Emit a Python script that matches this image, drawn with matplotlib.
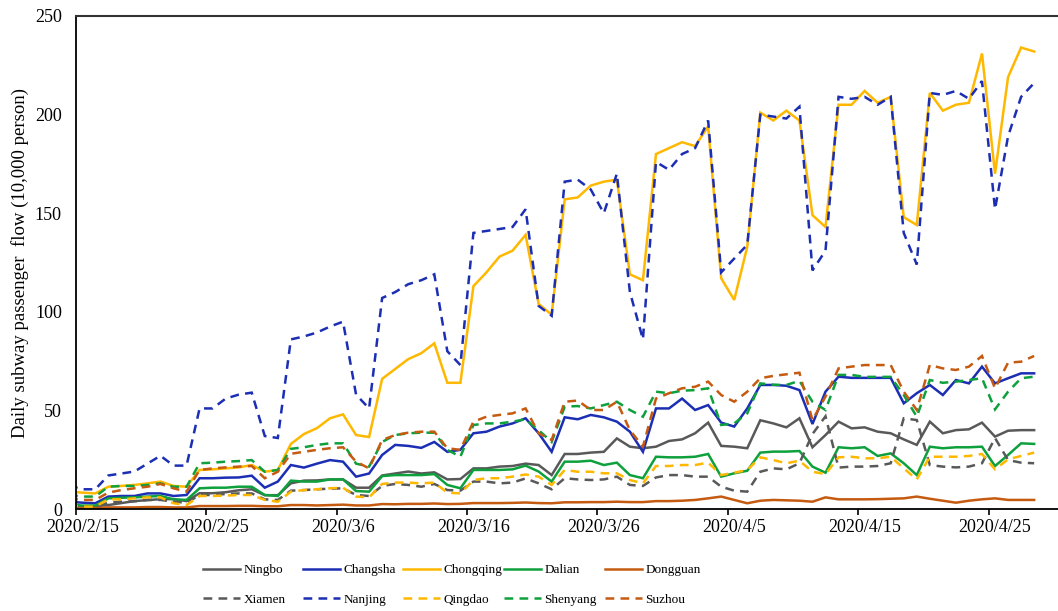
import matplotlib
matplotlib.use("Agg")
import matplotlib.pyplot as plt
import matplotlib.dates as mdates
import pandas as pd

plt.rcParams['font.family'] = ['Liberation Serif', 'DejaVu Serif']

# daily subway passenger flow (10,000 persons), 2020/2/14 .. 2020/4/28
dates = pd.date_range('2020-02-14 12:00', '2020-04-28 12:00', freq='D')

ningbo = [1.5, 1.5, 1.5, 2, 3, 4, 4.5, 5, 5, 4,
          8, 8, 8.5, 9.5, 10, 7, 7,
          13, 14.4, 14.5, 15, 15, 10.8, 10.8,
          17, 18, 19, 18, 18.6, 15, 15.2,
          20.6, 20.6, 21.5, 21.8, 23, 22.3, 17.2,
          27.9, 27.9, 28.6, 29, 35.8, 31.6, 30.8,
          31.6, 34.5, 35.3, 38.4, 43.8, 32, 31.6,
          30.8, 45, 43.4, 41.4, 46, 31.3, 37.5,
          44.3, 40.9, 41.4, 39.2, 38.4, 35.3, 32.5,
          44.3, 38.4, 40, 40.4, 43.8, 36.7, 39.7,
          40, 40]
changsha = [3.7, 3.2, 2.9, 6.3, 6.6, 6.6, 7.9, 7.9, 6.6, 7.1,
            15.6, 15.6, 15.9, 16, 16.9, 10.8, 13.9,
            22.3, 21, 23, 24.8, 24, 16.4, 18,
            27.4, 32.5, 32, 31, 34, 29, 30,
            38.4, 39.2, 41.8, 43.4, 46, 38.4, 29,
            46.5, 45.5, 47.7, 46.5, 44.3, 39.2, 29,
            51, 51, 56, 50.2, 52.7, 43.8, 41.8,
            51, 62.9, 62.9, 62.5, 60.3, 43.1, 59.5,
            67.1, 66.5, 66.5, 66.5, 66.5, 53.6, 58.7,
            62.9, 57.8, 65.4, 63.7, 72.2, 63.7, 66.3,
            68.8, 68.8]
chongqing = [8.8, 8.3, 7.9, 11.3, 11.7, 12.2, 13, 13.9, 11.7, 11.3,
             19.8, 20.1, 20.6, 21.1, 22.3, 18.9, 19.8,
             33, 38, 41, 46, 48, 37.5, 36.5,
             66, 71, 76, 79, 84, 64, 64,
             113, 120, 128, 131, 139, 104, 98.5,
             157, 158, 164, 166, 167, 119, 116,
             180, 183, 186, 184, 194, 117, 106,
             133, 201, 197, 202, 197, 149, 143,
             205, 205, 212, 206, 209, 148, 144,
             211, 202, 205, 206, 231, 170, 219,
             234, 232]
dalian = [2.5, 1.7, 1.7, 5.4, 5.7, 5.9, 6.3, 6.6, 4.9, 4.6,
          10.5, 10.8, 10.8, 11.3, 11.3, 7.1, 6.6,
          14.4, 13.9, 13.9, 15, 15, 9.1, 8.8,
          16.7, 17.2, 17.2, 17.2, 17.7, 12.2, 10.5,
          19.8, 19.8, 19.8, 20.1, 22, 19, 13.9,
          24, 24, 24.5, 22.3, 23.5, 17.2, 15.6,
          26.5, 26.2, 26.2, 26.5, 27.9, 16.4, 18.1,
          19.4, 28.6, 29.1, 29.1, 29.4, 21.5, 18.4,
          31.3, 30.8, 31.3, 26.9, 28.2, 23.2, 17.2,
          31.6, 30.8, 31.3, 31.3, 31.6, 21.8, 27.4,
          33.3, 33]
dongguan = [0.5, 0.5, 0.5, 0.8, 0.8, 0.8, 1, 1, 0.8, 0.8,
            1.5, 1.5, 1.5, 1.6, 1.6, 1.4, 1.4,
            2, 2, 1.8, 2, 2.2, 1.8, 1.8,
            2.5, 2.4, 2.6, 2.6, 2.8, 2.5, 2.6,
            3, 3, 3, 3.1, 3.3, 3, 2.9,
            3.4, 3.4, 3.5, 3.5, 3.7, 3.5, 3.5,
            4, 4, 4.2, 4.6, 5.4, 6.3, 4.6,
            2.9, 4.2, 4.6, 4.4, 4.2, 3.7, 5.9,
            4.9, 4.9, 4.9, 5, 5.2, 5.4, 6.3,
            5.2, 4.2, 3.2, 4.2, 4.9, 5.4, 4.6,
            4.6, 4.6]
xiamen = [1.2, 0.8, 0.8, 3.2, 3.7, 3.9, 4.6, 4.6, 3.7, 3.2,
          7.1, 7.1, 7.6, 7.9, 7.9, 4.9, 4.6,
          9.3, 9.6, 10, 10.3, 10.5, 7.1, 6.6,
          11.7, 12.7, 12.2, 11.3, 12.7, 9.6, 9.3,
          13.9, 13.9, 13, 13.4, 15.5, 13, 10,
          15.6, 15, 14.7, 15, 16.4, 12.2, 11.7,
          16, 17.2, 17.2, 16.4, 16.4, 11.3, 9.3,
          8.8, 18.9, 20.6, 20.1, 23.2, 38, 47,
          21, 21.5, 21.5, 21.8, 23.2, 46, 45.1,
          22.3, 21.5, 21.1, 21.5, 23.2, 36, 24.8,
          23.5, 23.2]
nanjing = [12, 10, 10, 17, 18, 19, 23, 27, 22, 22,
           51, 51, 56, 58, 59, 37, 36,
           86, 87.5, 89.5, 92.5, 95, 58, 51,
           107, 110, 114, 116, 119, 80, 73,
           140, 141, 142, 143, 152, 103, 98,
           166, 167, 162, 150, 170, 110, 86,
           176, 172, 180, 183, 197, 120, 127,
           134, 200, 199, 198, 204, 121, 131,
           209, 208, 209, 205, 209, 140, 124,
           211, 210, 212, 208, 217, 152, 189,
           209, 216]
qingdao = [2, 1.2, 1.2, 4.9, 4.9, 5.4, 5.9, 5.9, 2.9, 2,
           6.6, 6.6, 6.8, 7.1, 7.1, 4.6, 3.7,
           8.8, 9.6, 10, 10.5, 10.8, 6.3, 5.9,
           12.7, 13.4, 13.4, 13, 13.4, 8.3, 7.9,
           14.7, 15.6, 15.6, 16.4, 17.5, 16.4, 12.2,
           19.8, 18.9, 18.9, 18.1, 18.1, 14.7, 13,
           21.8, 21.8, 22.3, 22.3, 23.5, 17.2, 18.4,
           19.8, 26.2, 24.8, 23.2, 24.5, 18.9, 17.7,
           26.2, 26.5, 25.7, 25.7, 26.5, 20.6, 15,
           26.5, 26.5, 26.5, 26.9, 27.9, 20.1, 25.2,
           26.9, 28.6]
shenyang = [7.1, 6.3, 6.3, 11.3, 11.7, 11.7, 12.2, 13, 11.3, 11.3,
            23.2, 23.5, 24, 24.3, 24.8, 18.9, 19.8,
            30.5, 31.3, 32.5, 33.3, 33.3, 23, 21.5,
            34, 37.5, 38.4, 38.7, 38.7, 30, 26.5,
            42.6, 43.4, 43.4, 44.3, 45.5, 40, 34,
            51.9, 52.2, 51, 52.7, 54.4, 50.2, 46.8,
            59.5, 58.7, 60, 60.3, 61.2, 42.6, 43.4,
            48.5, 63.7, 63, 62.9, 65, 54.4, 50.2,
            68, 68, 67, 67, 67, 57.8, 46.8,
            65.4, 64, 64.6, 65.4, 66.3, 50.5, 59.5,
            66.3, 67.1]
suzhou = [5.4, 4.6, 4.6, 8.3, 9.6, 10.5, 11.3, 12.7, 10.5, 8.8,
          19.8, 20.6, 21.1, 21.5, 21.8, 15.6, 18.9,
          28, 29, 30, 30.8, 31.3, 24, 20.6,
          35, 37.5, 38.7, 39.2, 39.2, 30.8, 30,
          44.3, 46.8, 47.7, 48.5, 51, 38.4, 35,
          54.4, 55, 50.2, 50.2, 54.4, 40, 31.6,
          56, 58.7, 61.2, 62, 64.6, 57.8, 54.4,
          59.5, 66.3, 67.5, 68.3, 69.1, 45.1, 57,
          71.3, 72.2, 73, 73, 73, 59.5, 50.2,
          73, 71.3, 70.5, 72.2, 77.6, 61.2, 74.2,
          74.7, 77.6]

gray = '#595959'
blue = '#1c2fb4'
gold = '#ffb800'
green = '#0ea03c'
brown = '#c55a11'

# (label, values, colour, dashed) in drawing order
series = [
    ('Ningbo', ningbo, gray, False),
    ('Changsha', changsha, blue, False),
    ('Chongqing', chongqing, gold, False),
    ('Dalian', dalian, green, False),
    ('Dongguan', dongguan, brown, False),
    ('Xiamen', xiamen, gray, True),
    ('Nanjing', nanjing, blue, True),
    ('Qingdao', qingdao, gold, True),
    ('Shenyang', shenyang, green, True),
    ('Suzhou', suzhou, brown, True),
]
dash = (0, (3.5, 2.5))
lw = 1.8

W, H = 1058, 611
fig = plt.figure(figsize=(W / 100, H / 100), dpi=100)
ax_left, ax_top, ax_bottom = 75.7, 16, 509
ax = fig.add_axes([ax_left / W, 1 - ax_bottom / H, (W - ax_left) / W, (ax_bottom - ax_top) / H])

handles = {}
for name, vals, col, dashed in series:
    ln, = ax.plot(dates, vals, color=col, lw=lw, linestyle=dash if dashed else '-',
                  solid_joinstyle='miter', dash_joinstyle='miter')
    handles[name] = ln

start = mdates.date2num(pd.Timestamp('2020-02-15'))
px_per_day = 13.04
ax.set_xlim(start, start + (W - ax_left) / px_per_day)
ax.set_ylim(0, 250)
ax.set_yticks(range(0, 251, 50))

# tick marks at the start of every tenth day, labels centred on that day
tick_days = pd.date_range('2020-02-15', periods=8, freq='10D')
ax.set_xticks(mdates.date2num(tick_days))
ax.set_xticklabels([])
ax.set_xticks(mdates.date2num(tick_days + pd.Timedelta(hours=12)), minor=True)
ax.set_xticklabels([f'{d.year}/{d.month}/{d.day}' for d in tick_days], minor=True)

ax.spines['right'].set_visible(False)
for s in ['left', 'bottom']:
    ax.spines[s].set_linewidth(1.3)
    ax.spines[s].set_color('black')
ax.spines['top'].set_linewidth(1.5)
ax.spines['top'].set_color('#333333')

ax.tick_params(axis='y', length=0, pad=10, labelsize=13)
ax.tick_params(axis='x', which='major', length=4, width=1.2, direction='out')
ax.tick_params(axis='x', which='minor', length=0, pad=7.5, labelsize=13)

ax.set_ylabel('Daily subway passenger  flow (10,000 person)', fontsize=13.5)
ax.yaxis.set_label_coords((29 - ax_left) / (W - ax_left), 0.5)

# legend laid out as five equal columns of two rows
col_x = [203, 303, 403, 504, 605]
pairs = [('Ningbo', 'Xiamen'), ('Changsha', 'Nanjing'), ('Chongqing', 'Qingdao'),
         ('Dalian', 'Shenyang'), ('Dongguan', 'Suzhou')]
for x, (a, b) in zip(col_x, pairs):
    fig.legend([handles[a], handles[b]], [a, b], loc='center left',
               bbox_to_anchor=(x / W, 1 - 585 / H), frameon=False, fontsize=9.5,
               handlelength=2.8, handletextpad=0.25, labelspacing=1.33,
               borderpad=0, borderaxespad=0)

fig.savefig('out.png', dpi=100)
